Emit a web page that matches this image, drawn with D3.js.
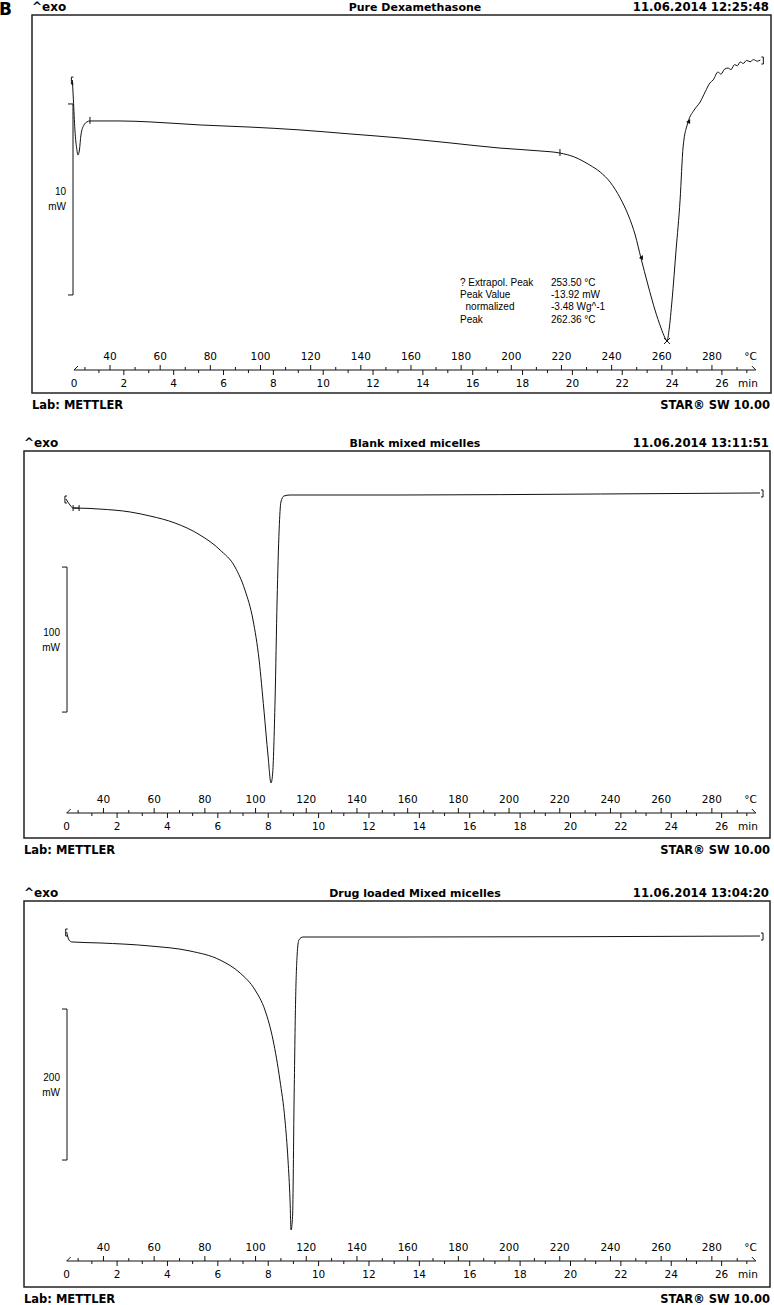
<!DOCTYPE html>
<html>
<head>
<meta charset="utf-8">
<script src="https://cdn.jsdelivr.net/npm/d3@7"></script>
<style>
body { margin: 0; background: #fff; }
svg { display: block; }
</style>
</head>
<body>
<svg id="chart" width="774" height="1305"></svg>
<script>
// data: temperature (°C) and heat flow (mW)
var dexaTemp = [25.0, 25.4, 26.0, 26.8, 27.2, 27.8, 28.4, 29.6, 30.8, 32.0, 44.0, 55.9, 75.9, 95.8, 115.7, 135.7, 155.6, 175.6, 195.5, 211.4, 219.4, 225.2, 231.3, 235.4, 239.4, 243.4, 246.6, 249.4, 251.7, 254.5, 257.3, 259.7, 261.3, 262.1, 262.9, 264.1, 265.7, 267.3, 268.5, 270.5, 272.9, 275.3, 277.3, 279.2, 280.5, 282.4, 283.6, 285.0, 286.4, 287.6, 289.0, 290.2, 291.2, 292.5, 293.8, 295.2, 296.6, 298.0, 299.3];
var dexaFlow = [0.09, -0.95, -2.52, -3.57, -3.83, -3.57, -2.79, -2.26, -2.10, -2.05, -2.05, -2.10, -2.26, -2.37, -2.52, -2.73, -2.94, -3.20, -3.47, -3.62, -3.73, -3.94, -4.36, -4.72, -5.25, -6.08, -6.97, -8.02, -9.23, -10.64, -11.95, -12.89, -13.41, -13.57, -12.99, -11.42, -8.81, -6.19, -3.41, -2.10, -1.48, -1.06, -0.53, -0.06, 0.10, 0.51, 0.40, 0.66, 0.72, 0.64, 0.90, 0.84, 1.04, 0.96, 1.12, 1.05, 1.16, 1.08, 1.14];

var blankTemp = [25.2, 26.8, 28.0, 29.2, 38.6, 50.5, 58.4, 68.2, 78.1, 86.0, 91.9, 95.8, 99.0, 101.4, 103.3, 104.9, 106.1, 106.7, 107.7, 108.5, 109.3, 110.0, 111.2, 113.6, 157.0, 236.0, 299.0];
var blankFlow = [-7.76, -11.9, -14.0, -14.0, -14.7, -16.7, -19.5, -24.3, -32.6, -42.9, -54.7, -70.5, -91.2, -118.8, -153.3, -184.3, -203.6, -198.0, -146.4, -77.4, -29.1, -9.8, -5.7, -5.0, -5.0, -4.3, -3.6];

var loadedTemp = [25.5, 26.4, 27.6, 38.6, 58.4, 74.1, 86.0, 93.9, 99.8, 103.7, 106.9, 109.6, 111.6, 112.8, 113.6, 114.0, 114.6, 115.2, 115.8, 116.4, 117.1, 118.7, 157.0, 299.0];
var loadedFlow = [-3.4, -14.0, -16.6, -17.9, -21.9, -28.5, -40.5, -57.7, -80.2, -106.7, -146.4, -199.4, -252.4, -305.4, -358.3, -398.0, -380.0, -225.9, -93.4, -33.8, -14.0, -10.0, -10.0, -8.7];

var titles = ['Pure Dexamethasone', 'Blank mixed micelles', 'Drug loaded Mixed micelles'];
var stamps = ['11.06.2014 12:25:48', '11.06.2014 13:11:51', '11.06.2014 13:04:20'];
var scaleBars = [10, 100, 200];
var tempTicks = d3.range(30, 300, 10);
var minTicks = d3.range(0, 28, 1);
var annotLabels = ['? Extrapol. Peak', 'Peak Value', '  normalized', 'Peak'];
var annotValues = ['253.50 \u00b0C', '-13.92 mW', '-3.48 Wg^-1', '262.36 \u00b0C'];

var svg = d3.select('#chart');
var ink = '#111';
var boldFont = 'DejaVu Sans, Verdana, sans-serif';

// panel layout
var panels = [
	{ temp: dexaTemp, flow: dexaFlow, left: 32, top: 15, right: 771, bottom: 393,
		x0: 72.4, tRange: [25, 295], pxPerC: 2.508, t0px: 74, pxPerMin: 24.92,
		yDomain: [0, -10], yRange: [81.8, 272.8], axisY: 370, barTop: -1.16, barX: 73 },
	{ temp: blankTemp, flow: blankFlow, left: 24, top: 451, right: 770, bottom: 838,
		x0: 66.7, tRange: [25.5, 295], pxPerC: 2.535, t0px: 66.7, pxPerMin: 25.19,
		yDomain: [0, -100], yRange: [487.75, 632.75], axisY: 813, barTop: -54.7, barX: 67 },
	{ temp: loadedTemp, flow: loadedFlow, left: 24, top: 901, right: 770, bottom: 1287,
		x0: 66.7, tRange: [25.5, 295], pxPerC: 2.535, t0px: 66.7, pxPerMin: 25.19,
		yDomain: [0, -200], yRange: [929.45, 1080.45], axisY: 1261, barTop: -105.4, barX: 67 }
];

// corner label
svg.append('text').attr('x', -1).attr('y', 15)
	.attr('font-family', boldFont).attr('font-weight', 'bold').attr('font-size', 17)
	.attr('fill', '#000').text('B');

panels.forEach(function(p, i) {
	var g = svg.append('g');
	var x = d3.scaleLinear().domain(p.tRange)
		.range([p.x0, p.x0 + (p.tRange[1] - p.tRange[0]) * p.pxPerC]);
	var xm = d3.scaleLinear().domain([0, 27]).range([p.t0px, p.t0px + 27 * p.pxPerMin]);
	var y = d3.scaleLinear().domain(p.yDomain).range(p.yRange);

	// header
	g.append('text').attr('x', p.left).attr('y', p.top - 4)
		.attr('font-family', boldFont).attr('font-weight', 'bold').attr('font-size', 12)
		.text('^exo');
	g.append('text').attr('x', 415).attr('y', p.top - 4).attr('text-anchor', 'middle')
		.attr('font-family', boldFont).attr('font-weight', 'bold').attr('font-size', 11)
		.text(titles[i]);
	g.append('text').attr('x', 769).attr('y', p.top - 4).attr('text-anchor', 'end')
		.attr('font-family', boldFont).attr('font-weight', 'bold').attr('font-size', 11.7)
		.text(stamps[i]);

	// frame
	g.append('rect').attr('x', p.left).attr('y', p.top)
		.attr('width', p.right - p.left).attr('height', p.bottom - p.top)
		.attr('fill', 'none').attr('stroke', '#222').attr('stroke-width', 1.5);

	// footer
	g.append('text').attr('x', p.left).attr('y', p.bottom + 16)
		.attr('font-family', boldFont).attr('font-weight', 'bold').attr('font-size', 11.5)
		.text('Lab: METTLER');
	g.append('text').attr('x', 770).attr('y', p.bottom + 16).attr('text-anchor', 'end')
		.attr('font-family', boldFont).attr('font-weight', 'bold').attr('font-size', 11.5)
		.text('STAR\u00ae SW 10.00');

	// double axis: temperature above, minutes below
	var ay = p.axisY;
	var axEnd = xm(27) + 9;
	g.append('line').attr('x1', xm(0)).attr('x2', axEnd).attr('y1', ay).attr('y2', ay)
		.attr('stroke', ink).attr('stroke-width', 1);
	g.append('path').attr('d', 'M' + xm(0) + ',' + ay + 'l4,-4')
		.attr('stroke', ink).attr('fill', 'none');
	g.append('path').attr('d', 'M' + (axEnd - 4) + ',' + (ay - 4) + 'l4,4')
		.attr('stroke', ink).attr('fill', 'none');
	g.selectAll('.tt').data(tempTicks).enter().append('line')
		.attr('x1', function(d) { return x(d); }).attr('x2', function(d) { return x(d); })
		.attr('y1', ay).attr('y2', function(d) { return d % 20 === 0 ? ay - 5 : ay - 3; })
		.attr('stroke', ink);
	g.selectAll('.mt').data(minTicks.slice(1)).enter().append('line')
		.attr('x1', function(d) { return xm(d); }).attr('x2', function(d) { return xm(d); })
		.attr('y1', ay).attr('y2', function(d) { return d % 2 === 0 ? ay + 5 : ay + 3; })
		.attr('stroke', ink);
	g.selectAll('.tl').data(tempTicks.filter(function(d) { return d % 20 === 0; }))
		.enter().append('text')
		.attr('x', function(d) { return x(d); }).attr('y', ay - 10)
		.attr('text-anchor', 'middle').attr('font-family', boldFont).attr('font-size', 10.5)
		.text(function(d) { return d; });
	g.append('text').attr('x', axEnd + 1).attr('y', ay - 10).attr('text-anchor', 'end')
		.attr('font-family', boldFont).attr('font-size', 10.5).text('\u00b0C');
	g.selectAll('.ml').data(minTicks.filter(function(d) { return d % 2 === 0; }))
		.enter().append('text')
		.attr('x', function(d) { return xm(d); }).attr('y', ay + 17)
		.attr('text-anchor', 'middle').attr('font-family', boldFont).attr('font-size', 10.5)
		.text(function(d) { return d; });
	g.append('text').attr('x', axEnd + 2).attr('y', ay + 17).attr('text-anchor', 'end')
		.attr('font-family', boldFont).attr('font-size', 10.5).text('min');

	// scale bar
	var b0 = y(p.barTop), b1 = y(p.barTop - scaleBars[i]);
	g.append('path')
		.attr('d', 'M' + (p.barX - 5) + ',' + b0 + 'H' + p.barX + 'V' + b1 + 'H' + (p.barX - 5))
		.attr('fill', 'none').attr('stroke', ink).attr('stroke-width', 1);
	var mid = (b0 + b1) / 2;
	g.append('text').attr('x', p.barX - 7).attr('y', mid - 4).attr('text-anchor', 'end')
		.attr('font-family', 'Liberation Sans, Arial, sans-serif').attr('font-size', 10)
		.text(scaleBars[i]);
	g.append('text').attr('x', p.barX - 7).attr('y', mid + 11).attr('text-anchor', 'end')
		.attr('font-family', 'Liberation Sans, Arial, sans-serif').attr('font-size', 10)
		.text('mW');

	// curve
	var pts = p.temp.map(function(t, k) { return [t, p.flow[k]]; });
	var line = d3.line()
		.x(function(d) { return x(d[0]); })
		.y(function(d) { return y(d[1]); })
		.curve(d3.curveMonotoneX);
	g.append('path').datum(pts).attr('d', line)
		.attr('fill', 'none').attr('stroke', ink).attr('stroke-width', 1);

	// start / end brackets
	var s = pts[0], e = pts[pts.length - 1];
	g.append('path')
		.attr('d', 'M' + (x(s[0]) + 1) + ',' + (y(s[1]) - 3) + 'h-2v7h2')
		.attr('fill', 'none').attr('stroke', ink);
	g.append('path')
		.attr('d', 'M' + (x(e[0]) + 1) + ',' + (y(e[1]) - 3) + 'h2v7h-2')
		.attr('fill', 'none').attr('stroke', ink);

	if (i === 0) {
		// peak cross
		var pk = pts[33];
		g.append('path')
			.attr('d', 'M' + (x(pk[0]) - 3) + ',' + (y(pk[1]) - 3) + 'l6,6m0,-6l-6,6')
			.attr('stroke', ink);
		// evaluation limit marks
		[9, 20].forEach(function(k) {
			g.append('line').attr('x1', x(pts[k][0])).attr('x2', x(pts[k][0]))
				.attr('y1', y(pts[k][1]) - 4).attr('y2', y(pts[k][1]) + 3).attr('stroke', ink);
		});
		[28, 39].forEach(function(k) {
			var px = x(pts[k][0]), py = y(pts[k][1]);
			g.append('path').attr('d', 'M' + (px + 2) + ',' + (py - 3) + 'l-4,3l4,2z')
				.attr('fill', ink);
		});
		// result text
		var ag = g.append('g').attr('font-family', 'Liberation Sans, Arial, sans-serif')
			.attr('font-size', 10).attr('xml:space', 'preserve');
		annotLabels.forEach(function(lab, k) {
			ag.append('text').attr('x', 460).attr('y', 286 + k * 12.2)
				.style('white-space', 'pre').text(lab);
			ag.append('text').attr('x', 551).attr('y', 286 + k * 12.2).text(annotValues[k]);
		});
	} else {
		var s2 = pts[3];
		if (i === 1) {
			g.append('path')
				.attr('d', 'M' + (x(s2[0]) - 3) + ',' + (y(s2[1]) - 3) + 'v6m0,-3h6m0,-3v6')
				.attr('fill', 'none').attr('stroke', ink);
		}
	}
});
</script>
</body>
</html>
